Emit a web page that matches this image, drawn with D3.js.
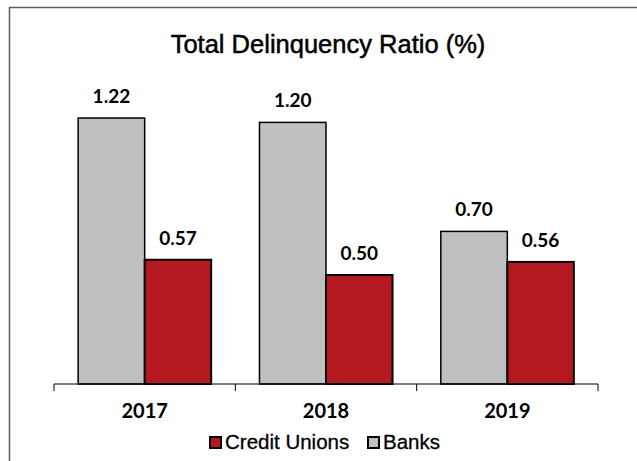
<!DOCTYPE html>
<html>
<head>
<meta charset="utf-8">
<script src="https://cdn.jsdelivr.net/npm/d3@7"></script>
<style>
html,body{margin:0;padding:0;background:#fff;}
svg{display:block;}
</style>
</head>
<body>
<svg id="chart" width="637" height="461"></svg>
<script>
const title = "Total Delinquency Ratio (%)";
const years = ["2017", "2018", "2019"];
const seriesNames = ["Banks", "Credit Unions"];
const banks = [1.22, 1.20, 0.70];
const creditUnions = [0.57, 0.50, 0.56];
const legendOrder = ["Credit Unions", "Banks"];

const colors = {"Banks": "#c0c0c1", "Credit Unions": "#b3191f"};
const strokes = {"Banks": 1.5, "Credit Unions": 2};

const svg = d3.select("#chart");

// outer frame (only top/left visible)
svg.append("rect")
  .attr("x", 9.5).attr("y", 7.5)
  .attr("width", 640).attr("height", 470)
  .attr("fill", "none").attr("stroke", "#5e5e5e").attr("stroke-width", 1.5);

const baseY = 384;
const x0 = d3.scaleBand().domain(years).range([54, 598]).padding(0);
const x1 = d3.scaleBand().domain(seriesNames).range([0, x0.bandwidth()])
  .paddingInner(0).paddingOuter(0.363);
const y = d3.scaleLinear().domain([0, 1.4]).range([baseY, baseY - 1.4 * 218]);

const data = years.map((yr, i) => ({
  year: yr,
  values: [
    {key: "Banks", value: banks[i]},
    {key: "Credit Unions", value: creditUnions[i]}
  ]
}));

// title
svg.append("text")
  .attr("x", 328).attr("y", 53)
  .attr("text-anchor", "middle")
  .attr("font-family", "Liberation Sans, Arial, sans-serif")
  .attr("font-size", 25.5)
  .attr("fill", "#000")
  .attr("stroke", "#000")
  .attr("stroke-width", 0.5)
  .text(title);

const groups = svg.selectAll("g.grp").data(data).enter().append("g")
  .attr("class", "grp")
  .attr("transform", d => `translate(${x0(d.year)},0)`);

groups.selectAll("rect").data(d => d.values).enter().append("rect")
  .attr("x", d => x1(d.key))
  .attr("y", d => y(d.value))
  .attr("width", x1.bandwidth())
  .attr("height", d => baseY - y(d.value))
  .attr("fill", d => colors[d.key])
  .attr("stroke", "#000")
  .attr("stroke-width", d => strokes[d.key]);

groups.selectAll("text.lbl").data(d => d.values).enter().append("text")
  .attr("class", "lbl")
  .attr("x", d => x1(d.key) + x1.bandwidth() / 2)
  .attr("y", d => y(d.value) - 15)
  .attr("text-anchor", "middle")
  .attr("font-family", "Lato, sans-serif")
  .attr("font-weight", "bold")
  .attr("font-size", 19)
  .attr("fill", "#000")
  .text(d => d.value.toFixed(2));

// x axis
const axis = svg.append("g").attr("transform", `translate(0,${baseY})`);
axis.append("line")
  .attr("x1", 54).attr("x2", 598).attr("y1", 0).attr("y2", 0)
  .attr("stroke", "#000").attr("stroke-width", 1);
const boundaries = years.map(yr => x0(yr)).concat([x0.range()[1]]);
axis.selectAll("line.tk").data(boundaries).enter().append("line")
  .attr("class", "tk")
  .attr("x1", d => d).attr("x2", d => d)
  .attr("y1", 0).attr("y2", 7)
  .attr("stroke", "#000").attr("stroke-width", 1);
axis.selectAll("text.yr").data(years).enter().append("text")
  .attr("class", "yr")
  .attr("x", d => x0(d) + x0.bandwidth() / 2)
  .attr("y", 34)
  .attr("text-anchor", "middle")
  .attr("font-family", "Lato, sans-serif")
  .attr("font-weight", "bold")
  .attr("font-size", 20)
  .attr("fill", "#000")
  .text(d => d);

// legend
const legendX = [209, 367];
const legend = svg.selectAll("g.leg").data(legendOrder).enter().append("g")
  .attr("class", "leg")
  .attr("transform", (d, i) => `translate(${legendX[i]},436)`);
legend.append("rect")
  .attr("x", 1).attr("y", 1).attr("width", 11).attr("height", 11)
  .attr("fill", d => colors[d]).attr("stroke", "#000").attr("stroke-width", 2);
legend.append("text")
  .attr("x", 16).attr("y", 13)
  .attr("font-family", "Liberation Sans, Arial, sans-serif")
  .attr("font-size", 20.5)
  .attr("fill", "#000")
  .attr("stroke", "#000")
  .attr("stroke-width", 0.3)
  .text(d => d);
</script>
</body>
</html>
